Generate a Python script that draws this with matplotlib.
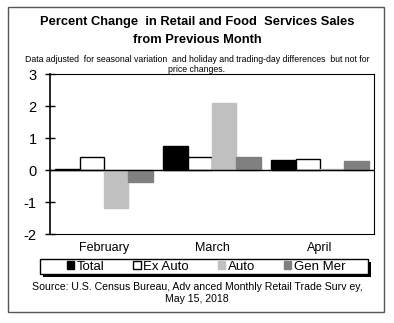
import matplotlib
matplotlib.use("Agg")
import matplotlib.pyplot as plt
import numpy as np
from matplotlib.patches import Rectangle

plt.rcParams["font.family"] = ["Liberation Sans", "DejaVu Sans"]
plt.rcParams["axes.unicode_minus"] = False

# ---- data ----
months = ["February", "March", "April"]
series = ["Total", "Ex Auto", "Auto", "Gen Mer"]
total = [0.03, 0.75, 0.3]
ex_auto = [0.4, 0.42, 0.35]
auto = [-1.2, 2.1, 0.03]
gen_mer = [-0.38, 0.4, 0.28]
values = [total, ex_auto, auto, gen_mer]
faces = ["black", "white", "#c0c0c0", "#808080"]
edges = ["black", "black", "#c0c0c0", "#808080"]

W, H = 394, 323
fig = plt.figure(figsize=(W / 100, H / 100), dpi=100)

def box(x0, y0, x1, y1, **kw):
    # rectangle in pixel coords (top-left origin)
    fig.patches.append(Rectangle((x0 / W, 1 - y1 / H), (x1 - x0) / W, (y1 - y0) / H,
                                 transform=fig.transFigure, **kw))

# outer frame
box(8, 7, 384, 312, fill=False, edgecolor="#555555", lw=1.0)

fig.text(0.5, 1 - 22 / H, "Percent Change  in Retail and Food  Services Sales",
         ha="center", va="center", fontsize=9.3, fontweight="bold")
fig.text(0.5, 1 - 40 / H, "from Previous Month",
         ha="center", va="center", fontsize=9.3, fontweight="bold")
fig.text(0.5, 1 - 59 / H,
         "Data adjusted  for seasonal variation  and holiday and trading-day differences  but not for",
         ha="center", va="center", fontsize=6.3)
fig.text(0.5, 1 - 69 / H, "price changes.", ha="center", va="center", fontsize=6.3)

ax = fig.add_axes([50 / W, 1 - 234 / H, 324 / W, 160 / H])
x = np.arange(len(months))
w = 0.225
for i, (vals, fc, ec, lab) in enumerate(zip(values, faces, edges, series)):
    ax.bar(x + (i - 1.5) * w, vals, w, color=fc, edgecolor=ec, lw=1.0, label=lab)
ax.axhline(0, color="black", lw=1.0)
ax.set_xlim(-0.5, 2.5)
ax.set_ylim(-2, 3)
ax.set_yticks([-2, -1, 0, 1, 2, 3])
ax.tick_params(axis="y", direction="inout", length=7, width=1, labelsize=10.5, pad=6)
ax.set_xticks([])
for s in ax.spines.values():
    s.set_linewidth(0.8)
ax.spines["left"].set_linewidth(1.2)
for xi, m in zip(x, months):
    ax.text(xi, -2.45, m, ha="center", va="center", fontsize=9)

# legend box with shadow
box(43, 262, 371, 277, facecolor="black", edgecolor="black", lw=0)
box(40, 259, 368, 274, facecolor="white", edgecolor="black", lw=1.0)
handles = [Rectangle((0, 0), 1, 1, facecolor=fc, edgecolor=ec, lw=1.0)
           for fc, ec in zip(faces, edges)]
leg = fig.legend(handles, series, loc="center", ncol=4,
                 bbox_to_anchor=(206 / W, 1 - 266.5 / H),
                 frameon=False, fontsize=9.5, handlelength=0.55, handleheight=0.55,
                 handletextpad=0.2, borderpad=0, borderaxespad=0,
                 columnspacing=2.2)

fig.text(0.5, 1 - 287 / H,
         "Source: U.S. Census Bureau, Adv anced Monthly Retail Trade Surv ey,",
         ha="center", va="center", fontsize=7.6)
fig.text(0.5, 1 - 299 / H, "May 15, 2018", ha="center", va="center", fontsize=7.6)

fig.savefig("out.png", dpi=100, facecolor="white")
